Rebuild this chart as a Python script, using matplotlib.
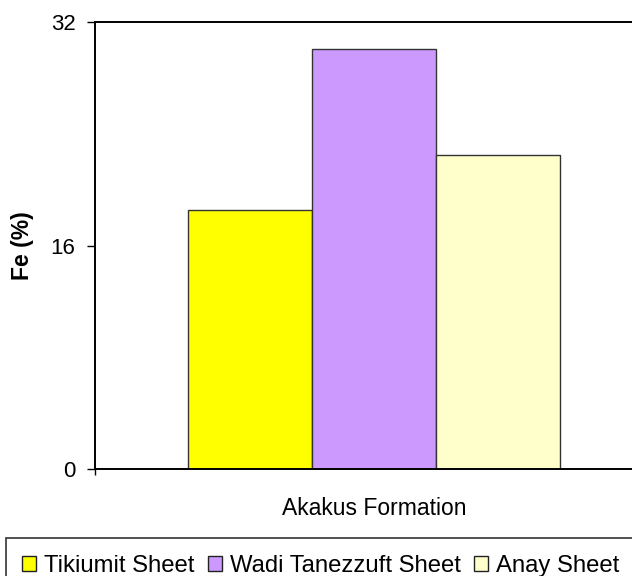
import matplotlib.pyplot as plt
from matplotlib.patches import Patch

# -----------------------------
# Data
# -----------------------------

OUTPUT_FILE = "out.png"

category = "Akakus Formation"
sheets = ["Tikiumit Sheet", "Wadi Tanezzuft Sheet", "Anay Sheet"]
fe_values = [18.6, 30.1, 22.5]
colors = ["#FFFF00", "#CC99FF", "#FFFFCC"]

plt.rcParams["font.family"] = ["Liberation Sans", "DejaVu Sans"]


# -----------------------------
# Plot
# -----------------------------

fig = plt.figure(figsize=(6.32, 5.76), dpi=100)
ax = fig.add_axes([0.1503, 0.1852, 0.883, 0.776])

positions = [-1, 0, 1]
ax.bar(
  positions,
  fe_values,
  width=1.0,
  color=colors,
  edgecolor="#333333",
  linewidth=1.0,
  zorder=2
)

ax.set_xlim(-2.25, 2.25)
ax.set_ylim(0, 32)
ax.set_yticks([0, 16, 32])
ax.tick_params(axis="y", direction="out", length=6, width=1.0, pad=8, labelsize=16)

ax.set_xticks([0])
ax.set_xticklabels([category], fontsize=16.5)
ax.tick_params(axis="x", length=0, pad=20)
ax.set_xticks([-2.25], minor=True)
ax.tick_params(axis="x", which="minor", direction="out", length=4, width=1.0)

ax.set_ylabel("Fe (%)", fontsize=16.5, fontweight="bold", labelpad=12)

for side in ["left", "bottom", "top"]:
  ax.spines[side].set_linewidth(1.4)
ax.spines["right"].set_visible(False)


# -----------------------------
# Legend
# -----------------------------

handles = [
  Patch(facecolor=c, edgecolor="#222222", linewidth=1.0, label=s)
  for c, s in zip(colors, sheets)
]

fig.legend(
  handles=handles,
  loc="upper left",
  bbox_to_anchor=(5.6 / 632, 1 - 538 / 576),
  ncol=3,
  fontsize=17.2,
  frameon=True,
  fancybox=False,
  edgecolor="black",
  handlelength=0.58,
  handleheight=0.56,
  handletextpad=0.33,
  columnspacing=0.57,
  borderpad=0.7,
  borderaxespad=0
)
fig.legends[0].get_frame().set_linewidth(1.2)


# -----------------------------
# Save
# -----------------------------

fig.savefig(OUTPUT_FILE, dpi=100)
plt.close(fig)

print(f"Saved: {OUTPUT_FILE}")
